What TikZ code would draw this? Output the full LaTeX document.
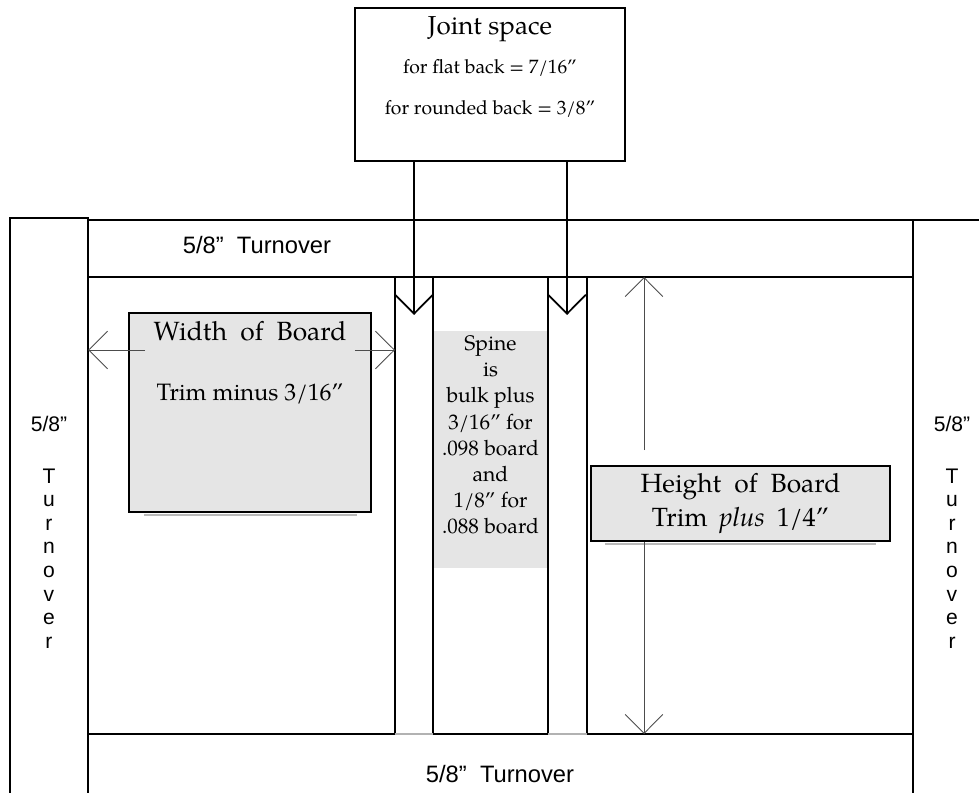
\documentclass[tikz,border=0pt]{standalone}
\usepackage{fontspec}
\setmainfont{TeX Gyre Pagella}
\newfontfamily\arialfont{Liberation Sans}
\usetikzlibrary{arrows.meta}
\definecolor{boardgray}{gray}{0.9}
\definecolor{dimgray}{gray}{0.3}

\begin{document}
\begin{tikzpicture}[x=0.02cm, y=-0.02cm, line width=0.6pt,
    thickline/.style={line width=1.5pt},
    barb/.style={-{Straight Barb[length=10.8pt,width=21.5pt]}},
    jointarrow/.style={barb, line width=1pt},
    dimarrow/.style={barb, line width=0.5pt, draw=dimgray},
    boardbox/.style={draw, fill=boardgray, line width=1.4pt, inner sep=0pt},
    shadowline/.style={draw=gray!55, line width=1pt},
    sidelabel/.style={font=\arialfont\fontsize{12}{14}\selectfont, anchor=base, inner sep=0pt},
    striplabel/.style={font=\arialfont\fontsize{13.5}{16}\selectfont, anchor=base},
  ]
    \useasboundingbox (0,0) rectangle (979,793);

    % joint space box
    \node[draw, line width=1.1pt, minimum width=5.4cm, minimum height=3.06cm] (joint) at (490,84.5) {};
    \node[anchor=base, font=\fontsize{14.8}{18}\selectfont] (jtitle) at (490,35) {Joint space};
    \node[anchor=base, font=\fontsize{11}{14}\selectfont] (jflat) at (490,74) {for flat back = 7/16”};
    \node[anchor=base, font=\fontsize{11}{14}\selectfont] (jround) at (490,115) {for rounded back = 3/8”};

    % spine fill
    \fill[boardgray] (433,331) rectangle (548,568);

    % turnover frame
    \draw (10,793) -- (10,218) -- (88,218) -- (88,793);
    \draw (88,220) -- (979,220);
    \draw (913,220) -- (913,793);
    \draw[thickline] (88,277) -- (913,277);
    \foreach \gx in {395,433,548,587}
      \draw (\gx,277) -- (\gx,734);
    \draw[thickline] (88,734) -- (395,734) (433,734) -- (548,734) (587,734) -- (913,734);
    \draw[thickline, draw=gray!60] (395,734) -- (433,734) (548,734) -- (587,734);

    % joint arrows
    \coordinate (jleft) at (414,315);
    \coordinate (jright) at (567,315);
    \draw[jointarrow] (joint.south -| jleft) -- (jleft);
    \draw[jointarrow] (joint.south -| jright) -- (jright);

    % width of board
    \node[boardbox, minimum width=4.84cm, minimum height=3.98cm] (wbox) at (250,412.5) {};
    \draw[shadowline] (144,515) -- (357,515);
    \node[anchor=base, font=\fontsize{15}{18}\selectfont, inner xsep=4.5pt] (wtitle) at (250,340) {Width\hspace{.5em}of\hspace{.5em}Board};
    \node[anchor=base, font=\fontsize{13.5}{16}\selectfont] (wtrim) at (250,400) {Trim minus 3/16”};
    \coordinate (wleft) at (88,350);
    \coordinate (wright) at (395,350);
    \draw[dimarrow] (wtitle.west |- wleft) -- (wleft);
    \draw[dimarrow] (wtitle.east |- wright) -- (wright);

    % spine
    \node[align=center, font=\fontsize{12}{14.9}\selectfont, inner sep=0pt] (spinetext) at (490.5,435)
      {Spine\\is\\bulk plus\\3/16” for\\.098 board\\and\\1/8” for\\.088 board};

    % height of board
    \node[boardbox, align=center, minimum width=5.98cm, minimum height=1.5cm, font=\fontsize{15}{19.3}\selectfont] (hbox) at (740.5,503.5)
      {Height\hspace{.5em}of\hspace{.5em}Board\\Trim\hspace{.45em}\textit{plus}\hspace{.45em}1/4”};
    \draw[shadowline] (605,544) -- (876,544);
    \coordinate (htop) at (644,277);
    \coordinate (hmid) at (644,450);
    \coordinate (hbot) at (644,734);
    \draw[dimarrow] (hmid) -- (htop);
    \draw[dimarrow] (hbox.south -| hbot) -- (hbot);

    % turnover labels
    \node[striplabel] (topturn) at (257,254) {5/8”\ \ Turnover};
    \node[striplabel] (botturn) at (500,782) {5/8”\ \ Turnover};
    \node[sidelabel] (lfrac) at (49,431) {5/8”};
    \node[sidelabel] (rfrac) at (952,431) {5/8”};
    \foreach \ch [count=\i from 0] in {T,u,r,n,o,v,e,r} {
      \node[sidelabel] (lside\i) at (49,{483+23.6*\i}) {\ch};
      \node[sidelabel] (rside\i) at (952,{483+23.6*\i}) {\ch};
    }
  \end{tikzpicture}
\end{document}
